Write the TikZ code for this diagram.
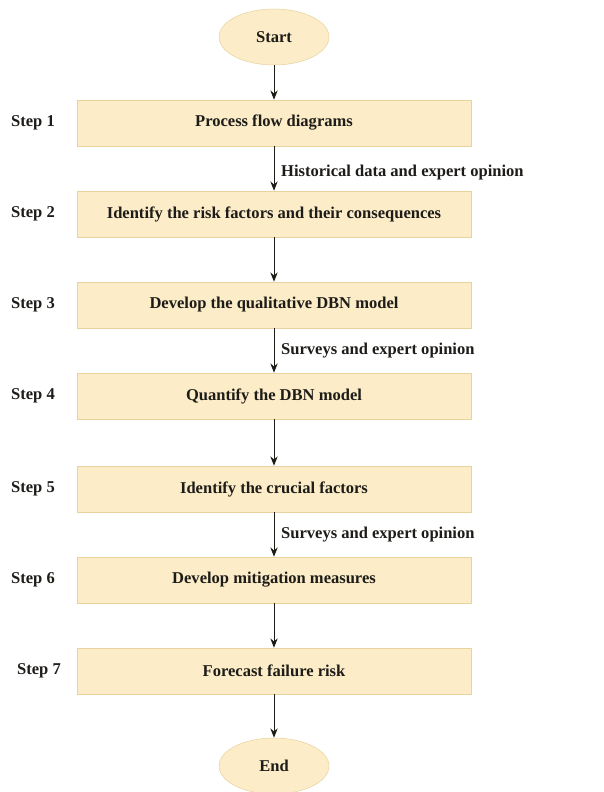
\documentclass[tikz,border=0pt]{standalone}
\usepackage{fontspec}
\setmainfont{Liberation Serif}
\usetikzlibrary{shapes,arrows.meta,positioning}

\definecolor{boxfill}{RGB}{252,237,200}
\definecolor{boxline}{RGB}{232,210,160}
\definecolor{ink}{RGB}{30,28,24}

\tikzset{
  stepbox/.style={draw=boxline, fill=boxfill, minimum width=295.5pt, minimum height=34.5pt},
  term/.style={ellipse, draw=boxline, fill=boxfill, minimum width=82.5pt, minimum height=42pt},
  flow/.style={-{Stealth[length=7pt,width=5.5pt]}, draw=ink, line width=0.75pt},
  note/.style={right, inner sep=5pt}
}

\begin{document}
\begin{tikzpicture}[x=0.75pt, y=-0.75pt, font=\fontsize{12.4}{14}\selectfont\bfseries, text=ink]
\useasboundingbox (0,0) rectangle (603,792);

% Terminals
\node[term] (start) at (274,37) {Start};
\node[term] (stop) at (274,766) {End};

% Steps and their labels
\foreach \n/\y/\lx/\txt in {1/123/33/Process flow diagrams,
    2/214/33/Identify the risk factors and their consequences,
    3/305/33/Develop the qualitative DBN model,
    4/396/33/Quantify the DBN model,
    5/489/33/Identify the crucial factors,
    6/580/33/Develop mitigation measures,
    7/671/39/Forecast failure risk} {
    \node[stepbox] (s\n) at (274,\y) {\txt};
    \node (l\n) at (\lx,\y) {Step \n};
}

% Flow
\draw[flow] (start) -- (s1);
\draw[flow] (s1) -- node[note, pos=0.6] {Historical data and expert opinion} (s2);
\draw[flow] (s2) -- (s3);
\draw[flow] (s3) -- node[note] {Surveys and expert opinion} (s4);
\draw[flow] (s4) -- (s5);
\draw[flow] (s5) -- node[note] {Surveys and expert opinion} (s6);
\draw[flow] (s6) -- (s7);
\draw[flow] (s7) -- (stop);
\end{tikzpicture}
\end{document}
